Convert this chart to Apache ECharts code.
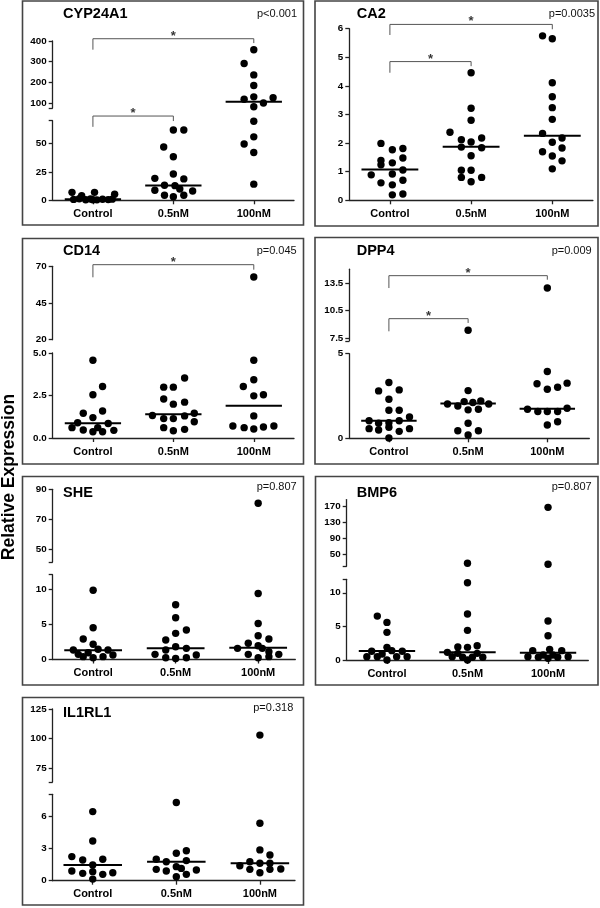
<!DOCTYPE html>
<html><head><meta charset="utf-8">
<script src="https://cdn.jsdelivr.net/npm/echarts@6/dist/echarts.min.js"></script>
<style>html,body{margin:0;padding:0;background:#fff;}#c{width:600px;height:908px;}</style>
</head><body><div id="c"></div>
<script>
// ---------------- DATA ----------------
const categories = ['Control', '0.5nM', '100nM'];
const yAxisTitle = 'Relative Expression';
const genes = ['CYP24A1', 'CA2', 'CD14', 'DPP4', 'SHE', 'BMP6', 'IL1RL1'];
const pValues = ['p<0.001', 'p=0.0035', 'p=0.045', 'p=0.009', 'p=0.807', 'p=0.807', 'p=0.318'];

// CYP24A1
const CYP24A1_control = [7.0, 4.0, 7.0, 5.3, 0.8, 1.4, 0.5, 1.2, 0.4, 0.9, 0.6, 1.0, 0.5];
const CYP24A1_05nM = [61.8, 61.8, 46.9, 38.3, 23.1, 19.3, 18.8, 13.2, 12.9, 9.9, 8.8, 8.2, 4.4, 3.2, 4.4];
const CYP24A1_100nM = [358, 291, 236, 185, 130, 118, 126, 100, 82, 69.5, 55.8, 49.5, 42.1, 14.2];
const CYP24A1_medians = [1.0, 13.0, 106];
const CYP24A1_sig = [[0, 2], [0, 1]];
const CYP24A1_yLabelsUpper = [100, 200, 300, 400];
const CYP24A1_yLabelsLower = [0, 25, 50];

// CA2
const CA2_control = [1.99, 1.77, 1.81, 1.39, 1.48, 1.24, 1.31, 0.89, 0.92, 1.06, 0.61, 0.70, 0.54, 0.19, 0.22];
const CA2_05nM = [4.46, 3.22, 2.80, 2.38, 2.12, 2.04, 2.18, 1.86, 1.84, 1.56, 1.05, 1.05, 0.80, 0.80, 0.65];
const CA2_100nM = [5.75, 5.65, 4.11, 3.62, 3.24, 2.83, 2.34, 2.18, 2.03, 1.83, 1.70, 1.55, 1.38, 1.10];
const CA2_medians = [1.08, 1.87, 2.26];
const CA2_sig = [[0, 2], [0, 1]];
const CA2_yLabels = [0, 1, 2, 3, 4, 5, 6];

// CD14
const CD14_control = [4.57, 3.03, 2.54, 1.59, 1.46, 1.20, 0.90, 0.85, 0.61, 0.47, 0.37, 0.61, 0.37, 0.45];
const CD14_05nM = [3.53, 2.99, 2.99, 2.29, 2.11, 1.99, 1.32, 1.14, 1.14, 1.30, 1.46, 0.96, 0.61, 0.43, 0.51];
const CD14_100nM = [62.7, 4.57, 3.43, 3.03, 2.54, 2.48, 1.30, 0.71, 0.61, 0.53, 0.65, 0.71];
const CD14_medians = [0.87, 1.40, 1.89];
const CD14_sig = [[0, 2]];
const CD14_yLabelsUpper = [20, 45, 70];
const CD14_yLabelsLower = [0, 2.5, 5];

// DPP4
const DPP4_control = [3.30, 2.80, 2.86, 2.31, 1.66, 1.66, 1.26, 1.04, 0.89, 0.92, 1.04, 0.57, 0.49, 0.65, 0.41, 0.57, 0.02];
const DPP4_05nM = [8.34, 2.82, 2.03, 1.91, 2.17, 2.12, 2.21, 2.03, 1.68, 1.72, 0.89, 0.45, 0.20, 0.45];
const DPP4_100nM = [12.95, 3.95, 3.22, 2.90, 3.02, 3.26, 1.72, 1.58, 1.58, 1.58, 1.78, 0.79, 0.98];
const DPP4_medians = [1.03, 2.05, 1.74];
const DPP4_sig = [[0, 2], [0, 1]];
const DPP4_yLabelsUpper = [7.5, 10.5, 13.5];
const DPP4_yLabelsLower = [0, 5];

// SHE
const SHE_control = [9.81, 4.49, 2.90, 2.15, 1.44, 1.34, 1.34, 0.73, 0.95, 0.25, 0.40, 0.64, 0.40];
const SHE_05nM = [7.74, 5.90, 4.17, 3.70, 2.75, 1.81, 1.58, 1.34, 0.73, 0.25, 0.15, 0.25, 0.64];
const SHE_100nM = [80.7, 9.35, 5.10, 3.36, 2.90, 2.29, 1.95, 1.58, 1.58, 0.73, 1.10, 0.73, 0.25, 0.40];
const SHE_medians = [1.30, 1.58, 1.67];
const SHE_sig = [];
const SHE_yLabelsUpper = [50, 70, 90];
const SHE_yLabelsLower = [0, 5, 10];

// BMP6
const BMP6_control = [6.53, 5.59, 4.11, 1.88, 1.29, 1.39, 1.29, 0.50, 0.50, 0.0, 0.50, 0.50, 0.89];
const BMP6_05nM = [27.3, 11.49, 6.83, 4.41, 1.93, 1.88, 2.13, 1.14, 0.99, 0.99, 0.50, 0.40, 0.40, 0.40, 0.0];
const BMP6_100nM = [168.5, 24.8, 5.79, 3.61, 1.39, 1.58, 1.39, 0.50, 0.40, 0.25, 0.40, 0.50, 0.74, 0.74];
const BMP6_medians = [1.35, 1.14, 1.09];
const BMP6_sig = [];
const BMP6_yLabelsUpper = [50, 90, 130, 170];
const BMP6_yLabelsLower = [0, 5, 10];

// IL1RL1
const IL1RL1_control = [6.40, 3.68, 2.23, 1.92, 1.98, 1.45, 0.90, 0.68, 0.84, 0.59, 0.74, 0.15];
const IL1RL1_05nM = [7.24, 2.54, 2.78, 1.98, 1.76, 1.86, 1.30, 1.14, 1.05, 0.90, 0.99, 0.37, 0.59];
const IL1RL1_100nM = [102.8, 5.32, 2.85, 2.38, 1.39, 1.76, 1.61, 1.61, 1.05, 0.74, 1.05, 1.08];
const IL1RL1_medians = [1.45, 1.76, 1.61];
const IL1RL1_sig = [];
const IL1RL1_yLabelsUpper = [75, 100, 125];
const IL1RL1_yLabelsLower = [0, 3, 6];

// ---------------- LAYOUT (horizontal scatter spread of dots, positions, sizes) ----------------
const CYP24A1_jitter = [
  [-0.26, -0.14, 0.02, 0.27, -0.24, -0.17, -0.09, -0.03, 0.05, 0.12, 0.19, 0.24, 0.0],
  [0, 0.13, -0.12, 0, 0, -0.23, 0.13, -0.11, 0.02, 0.08, -0.23, 0.24, -0.11, 0, 0.13],
  [0, -0.12, 0, 0, 0, -0.12, 0.24, 0.12, 0, 0, 0, -0.12, 0, 0]];
const CA2_jitter = [
  [-0.11, 0.03, 0.16, -0.11, 0.16, -0.11, 0.03, -0.23, 0.03, 0.16, -0.11, 0.16, 0.03, 0.03, 0.16],
  [0, 0, 0, -0.26, -0.12, 0, 0.13, -0.12, 0.13, 0, -0.12, 0, -0.12, 0.13, 0],
  [-0.12, 0, 0, 0, 0, 0, -0.12, 0.12, 0, 0.12, -0.12, 0, 0.12, 0]];
const CD14_jitter = [
  [0, 0.12, 0, 0.12, -0.12, 0, -0.19, 0.19, -0.26, -0.12, 0, 0.06, 0.12, 0.26],
  [0.14, -0.12, 0, -0.12, 0.14, 0, -0.26, -0.12, 0, 0.14, 0.26, 0.26, -0.12, 0, 0.14],
  [0, 0, 0, -0.13, 0.12, 0, 0, -0.26, -0.12, 0, 0.12, 0.25]];
const DPP4_jitter = [
  [0, -0.13, 0.13, 0, 0, 0.13, 0.26, -0.25, -0.13, 0, 0.13, -0.25, -0.13, 0, 0.13, 0.26, 0],
  [0, 0, -0.26, -0.13, -0.05, 0.06, 0.16, 0.26, 0, 0.13, 0, -0.13, 0, 0.13],
  [0, 0, -0.13, 0, 0.13, 0.25, -0.25, -0.12, 0, 0.13, 0.25, 0, 0.13]];
const SHE_jitter = [
  [0, 0, -0.12, 0, 0.06, -0.24, 0.18, -0.18, -0.06, 0, 0.12, 0.24, -0.12],
  [0, 0, 0.13, 0, -0.12, 0, 0.13, -0.12, -0.25, -0.12, 0, 0.13, 0.25],
  [0, 0, 0, 0, 0.13, -0.12, 0, -0.25, 0.05, -0.12, 0.13, 0.25, 0, 0.13]];
const BMP6_jitter = [
  [-0.12, 0, 0, 0, -0.19, 0.06, 0.19, -0.25, -0.12, 0, 0.12, 0.25, -0.06],
  [0, 0, 0, 0, -0.12, 0, 0.12, -0.25, -0.12, 0.12, -0.19, -0.06, 0.06, 0.19, 0],
  [0, 0, 0, 0, -0.19, 0.02, 0.17, -0.25, -0.12, 0, 0.12, 0.25, -0.06, 0.06]];
const IL1RL1_jitter = [
  [0, 0, -0.25, -0.12, 0.12, 0, -0.25, -0.12, 0, 0.12, 0.24, 0],
  [0, 0, 0.12, -0.24, -0.12, 0.12, 0, 0.06, -0.24, -0.12, 0.24, 0, 0.12],
  [0, 0, 0, 0.12, -0.24, -0.12, 0, 0.12, -0.12, 0, 0.12, 0.25]];

const fmt1 = v => v.toFixed(1);
const layout = {
  CYP24A1: { box: [22.5, 1, 281, 224], title: [63, 14], pval: [297, 14], xLeft: 52.7, xWidth: 241.3, xRange: [-0.5, 2.5],
    upper: { top: 41, bottom: 108, min: 76, max: 400, caps: [76], labels: CYP24A1_yLabelsUpper },
    lower: { top: 120.7, bottom: 200.3, min: 0, max: 70, caps: [70], labels: CYP24A1_yLabelsLower },
    brackets: [{ seg: 'upper', bar: 411, l: 358, r: 390 }, { seg: 'lower', bar: 74.1, l: 64.6, r: 69.7 }] },
  CA2: { box: [315, 1, 283, 225], title: [356.7, 14], pval: [595, 14], xLeft: 349.3, xWidth: 243.6, xRange: [-0.5, 2.5],
    upper: null,
    lower: { top: 28.7, bottom: 200.3, min: 0, max: 6, caps: [], labels: CA2_yLabels },
    brackets: [{ seg: 'lower', bar: 6.15, l: 5.78, r: 5.98 }, { seg: 'lower', bar: 4.85, l: 4.46, r: 4.69 }] },
  CD14: { box: [22.5, 238.5, 281, 225.5], title: [63, 251.3], pval: [296.7, 251], xLeft: 52.7, xWidth: 241.3, xRange: [-0.5, 2.5],
    upper: { top: 266.3, bottom: 339.7, min: 20, max: 70, caps: [], labels: CD14_yLabelsUpper },
    lower: { top: 353, bottom: 438, min: 0, max: 5, caps: [], labels: CD14_yLabelsLower, fmt: fmt1 },
    brackets: [{ seg: 'upper', bar: 71.1, l: 62.5, r: 67.7 }] },
  DPP4: { box: [315, 237.5, 283, 226.5], title: [356.7, 251.3], pval: [591.7, 251], xLeft: 349.3, xWidth: 240, xRange: [-0.5, 2.53],
    upper: { top: 269.25, bottom: 340.75, min: 7.2, max: 15, caps: [7.2], labels: DPP4_yLabelsUpper },
    lower: { top: 353.7, bottom: 438.3, min: 0, max: 5, caps: [], labels: DPP4_yLabelsLower },
    brackets: [{ seg: 'upper', bar: 14.3, l: 12.95, r: 13.86 }, { seg: 'upper', bar: 9.61, l: 8.23, r: 9.14 }] },
  SHE: { box: [22.5, 476.5, 281, 208.5], title: [63, 492.7], pval: [296.7, 486.7], xLeft: 52.7, xWidth: 242.6, xRange: [-0.49, 2.45],
    upper: { top: 489.3, bottom: 562, min: 41.5, max: 90, caps: [41.5], labels: SHE_yLabelsUpper },
    lower: { top: 574.7, bottom: 659.5, min: 0, max: 12, caps: [12], labels: SHE_yLabelsLower },
    brackets: [] },
  BMP6: { box: [315.5, 476.5, 282.5, 208.5], title: [356.7, 492.7], pval: [591.7, 486.7], xLeft: 346.7, xWidth: 241.6, xRange: [-0.5, 2.5],
    upper: { top: 499.6, bottom: 566.2, min: 20, max: 188, caps: [20], labels: BMP6_yLabelsUpper },
    lower: { top: 579.3, bottom: 660, min: 0, max: 12, caps: [12], labels: BMP6_yLabelsLower },
    brackets: [] },
  IL1RL1: { box: [22.5, 697.5, 281, 207.5], title: [63, 713.3], pval: [293.3, 708.3], xLeft: 52.7, xWidth: 242.3, xRange: [-0.479, 2.42],
    upper: { top: 709, bottom: 781.9, min: 63, max: 125, caps: [63], labels: IL1RL1_yLabelsUpper },
    lower: { top: 794.3, bottom: 880.7, min: 0, max: 8, caps: [8], labels: IL1RL1_yLabelsLower },
    brackets: [] }
};

const geneData = {
  CYP24A1: { values: [CYP24A1_control, CYP24A1_05nM, CYP24A1_100nM], jitter: CYP24A1_jitter, medians: CYP24A1_medians, sig: CYP24A1_sig },
  CA2: { values: [CA2_control, CA2_05nM, CA2_100nM], jitter: CA2_jitter, medians: CA2_medians, sig: CA2_sig },
  CD14: { values: [CD14_control, CD14_05nM, CD14_100nM], jitter: CD14_jitter, medians: CD14_medians, sig: CD14_sig },
  DPP4: { values: [DPP4_control, DPP4_05nM, DPP4_100nM], jitter: DPP4_jitter, medians: DPP4_medians, sig: DPP4_sig },
  SHE: { values: [SHE_control, SHE_05nM, SHE_100nM], jitter: SHE_jitter, medians: SHE_medians, sig: SHE_sig },
  BMP6: { values: [BMP6_control, BMP6_05nM, BMP6_100nM], jitter: BMP6_jitter, medians: BMP6_medians, sig: BMP6_sig },
  IL1RL1: { values: [IL1RL1_control, IL1RL1_05nM, IL1RL1_100nM], jitter: IL1RL1_jitter, medians: IL1RL1_medians, sig: IL1RL1_sig }
};

// ---------------- BUILD ----------------
const FONT = '"Liberation Sans", Arial, Helvetica, sans-serif';
const AX = '#222';
const grids = [], xAxes = [], yAxes = [], series = [], graphics = [];

function addSegment(L, seg, isBottom) {
  const gi = grids.length;
  grids.push({ left: L.xLeft, top: seg.top, width: L.xWidth, height: seg.bottom - seg.top, containLabel: false });
  xAxes.push({
    type: 'value', gridIndex: gi, min: L.xRange[0], max: L.xRange[1], show: isBottom,
    axisLine: { show: true, onZero: false, lineStyle: { color: AX, width: 1.3 } },
    axisTick: { show: true, customValues: [0, 1, 2], length: 4, lineStyle: { color: AX, width: 1.3 } },
    axisLabel: { show: true, customValues: [0, 1, 2], formatter: v => categories[Math.round(v)], color: '#000',
      fontWeight: 'bold', fontSize: 11, fontFamily: FONT, margin: 8 },
    splitLine: { show: false }
  });
  const ticks = seg.labels.concat(seg.caps);
  yAxes.push({
    type: 'value', gridIndex: gi, min: seg.min, max: seg.max,
    axisLine: { show: true, onZero: false, lineStyle: { color: AX, width: 1.3 } },
    axisTick: { show: true, customValues: ticks, length: 4, lineStyle: { color: AX, width: 1.3 } },
    axisLabel: { show: true, customValues: seg.labels, formatter: seg.fmt || (v => String(v)), color: '#000',
      fontWeight: 'bold', fontSize: 9.8, fontFamily: FONT, margin: 6 },
    splitLine: { show: false }
  });
  return gi;
}

genes.forEach((gene, gIdx) => {
  const L = layout[gene], D = geneData[gene];
  graphics.push({ type: 'rect', shape: { x: L.box[0], y: L.box[1], width: L.box[2], height: L.box[3] },
    style: { fill: 'none', stroke: '#444', lineWidth: 1.6 }, silent: true, z: 1 });
  graphics.push({ type: 'text', x: L.title[0], y: L.title[1],
    style: { text: gene, fill: '#000', fontSize: 14.5, fontWeight: 'bold', fontFamily: FONT, align: 'left', verticalAlign: 'middle' }, z: 10 });
  graphics.push({ type: 'text', x: L.pval[0], y: L.pval[1],
    style: { text: pValues[gIdx], fill: '#111', fontSize: 11, fontFamily: FONT, align: 'right', verticalAlign: 'middle' }, z: 10 });

  const lo = addSegment(L, L.lower, true);
  const up = L.upper ? addSegment(L, L.upper, false) : null;
  const segIdx = s => (s === 'upper' ? up : lo);

  D.values.forEach((vals, i) => {
    const jit = D.jitter[i];
    const ptsLo = [], ptsUp = [];
    vals.forEach((v, k) => {
      const pt = [i + jit[k], v];
      if (up !== null && v > L.lower.max) ptsUp.push(pt); else ptsLo.push(pt);
    });
    [[lo, ptsLo], [up, ptsUp]].forEach(([g, pts]) => {
      if (g === null || !pts.length) return;
      series.push({ type: 'scatter', xAxisIndex: g, yAxisIndex: g, data: pts, symbol: 'circle', symbolSize: 7.4,
        itemStyle: { color: '#000', opacity: 1 }, clip: false, silent: true, z: 3 });
    });
    const m = D.medians[i];
    const mg = (up !== null && m > L.lower.max) ? up : lo;
    series.push({ type: 'line', xAxisIndex: mg, yAxisIndex: mg, data: [[i - 0.35, m], [i + 0.35, m]],
      symbol: 'none', lineStyle: { color: '#000', width: 2 }, clip: false, silent: true, z: 4 });
  });

  D.sig.forEach(([a, b], s) => {
    const br = L.brackets[s];
    const g = segIdx(br.seg);
    series.push({ type: 'line', xAxisIndex: g, yAxisIndex: g,
      data: [[a, br.l], [a, br.bar], [b, br.bar], [b, br.r]],
      symbol: 'none', lineStyle: { color: '#555', width: 1 }, clip: false, silent: true, z: 2 });
    series.push({ type: 'scatter', xAxisIndex: g, yAxisIndex: g, data: [[(a + b) / 2, br.bar]],
      symbolSize: 1, itemStyle: { color: 'rgba(0,0,0,0)' }, clip: false, silent: true, z: 5,
      label: { show: true, formatter: '*', position: 'inside', offset: [0, -2.5], fontSize: 13, fontWeight: 'bold', color: '#000', fontFamily: FONT } });
  });
});

graphics.push({ type: 'text', x: 9, y: 477, rotation: Math.PI / 2,
  style: { text: yAxisTitle, fill: '#000', fontSize: 17.5, fontWeight: 'bold', fontFamily: FONT, align: 'center', verticalAlign: 'middle' } });

const chart = echarts.init(document.getElementById('c'), null, { renderer: 'canvas', width: 600, height: 908 });
chart.setOption({
  animation: false,
  backgroundColor: '#fff',
  grid: grids, xAxis: xAxes, yAxis: yAxes, series: series, graphic: graphics
});
</script>
</body></html>
